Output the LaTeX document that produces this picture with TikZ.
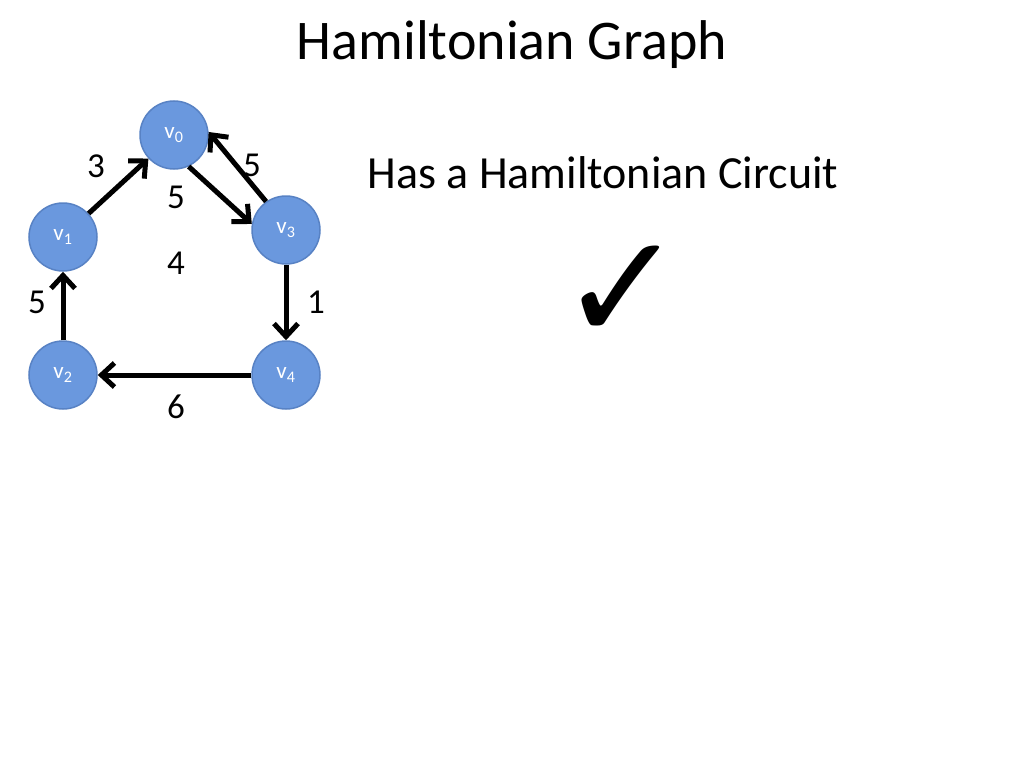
\documentclass[tikz,border=0pt]{standalone}
\usepackage{fontspec}
\setmainfont{Carlito}
\newfontfamily\symfont{DejaVu Sans}
\usetikzlibrary{arrows.meta}
\definecolor{vfill}{RGB}{106,152,222}
\definecolor{vdraw}{RGB}{88,130,196}
\tikzset{
	% vertex and edge styles
	vertex node/.style={circle,draw=vdraw,line width=1.5,fill=vfill,minimum size=68,inner sep=0,text=white,font=\fontsize{23}{26}\selectfont},
	arc edge/.style={line width=5,-{Straight Barb[length=13,width=24]}},
	weight/.style={font=\fontsize{35}{40}\selectfont}
}
\begin{document}
\begin{tikzpicture}[x=1pt,y=-1pt]
	\useasboundingbox (0,0) rectangle (1024,768);
	\node at (512,45) {\fontsize{56}{62}\selectfont Hamiltonian Graph};
	\node at (603,173) {\fontsize{46}{52}\selectfont Has a Hamiltonian Circuit};
	\node at (622,293) {\symfont\fontsize{150}{160}\selectfont ✓};
	
	\node(v0)[vertex node] at (174,135) {v\textsubscript{0}};
	\node(v1)[vertex node] at (63,237) {v\textsubscript{1}};
	\node(v3)[vertex node] at (286,230) {v\textsubscript{3}};
	\node(v2)[vertex node] at (63,375) {v\textsubscript{2}};
	\node(v4)[vertex node] at (286,375) {v\textsubscript{4}};
	
	\draw[arc edge] (v1) -- (v0);
	\draw[arc edge] (v3.125) -- (v0.5);
	\draw[arc edge] (v0.-65) -- (v3.170);
	\draw[arc edge] (v3) -- (v4);
	\draw[arc edge] (v4) -- (v2);
	\draw[arc edge] (v2) -- (v1);
	
	\node[weight] at (96,166) {3};
	\node[weight] at (252,165) {5};
	\node[weight] at (176,197) {5};
	\node[weight] at (176,263) {4};
	\node[weight] at (316,302) {1};
	\node[weight] at (37,302) {5};
	\node[weight] at (176,407) {6};
\end{tikzpicture}
\end{document}
